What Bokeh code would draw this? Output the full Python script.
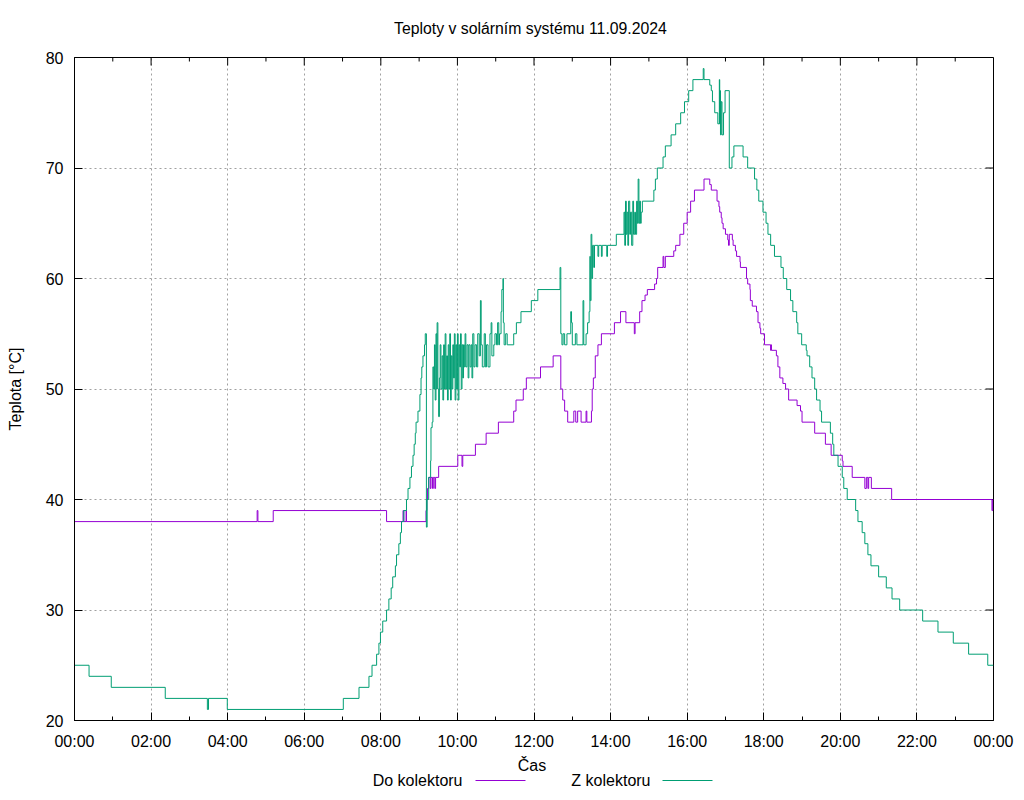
from bokeh.plotting import figure
from bokeh.layouts import column
from bokeh.models import FixedTicker, LinearAxis, Range1d
from bokeh.core.properties import value
from bokeh.embed import file_html
from bokeh.resources import INLINE

# ---- data: time in hours, temperature in degC (step data) ----
do_t = [0.00, 4.77, 4.79, 5.19, 8.15, 8.58, 8.60, 8.66, 8.67, 9.18, 9.20, 9.22, 9.25,
        9.29, 9.31, 9.35, 9.37, 9.41, 9.43, 9.51, 10.01, 10.12, 10.14, 10.47, 10.75,
        11.07, 11.47, 11.53, 11.72, 11.80, 12.17, 12.50, 12.70, 12.75, 12.80, 12.88,
        13.04, 13.09, 13.14, 13.23, 13.36, 13.38, 13.50, 13.52, 13.55, 13.60, 13.67,
        13.76, 14.10, 14.26, 14.40, 14.62, 14.64, 14.76, 14.82, 14.90, 14.96, 15.15,
        15.20, 15.23, 15.37, 15.39, 15.43, 15.65, 15.70, 15.81, 15.91, 16.00, 16.09,
        16.19, 16.44, 16.59, 16.63, 16.78, 16.83, 16.85, 16.89, 16.91, 16.94, 17.00,
        17.06, 17.08, 17.10, 17.18, 17.20, 17.26, 17.29, 17.38, 17.39, 17.55, 17.58,
        17.64, 17.65, 17.70, 17.81, 17.85, 17.90, 17.92, 18.02, 18.18, 18.19, 18.20,
        18.33, 18.37, 18.42, 18.50, 18.57, 18.65, 18.87, 18.96, 19.00, 19.33, 19.61,
        19.76, 20.05, 20.07, 20.31, 20.64, 20.68, 20.72, 20.74, 20.81, 21.34, 23.96,
        23.98, 24.00]
do_v = [38, 39, 38, 39, 38, 39, 38, 39, 38, 39, 40, 41, 42,
        41, 42, 41, 42, 41, 42, 43, 44, 43, 44, 45, 46,
        47, 48, 49, 50, 51, 52, 53, 50, 49, 48, 47,
        48, 47, 48, 47, 48, 47, 48, 50, 51, 53, 54,
        55, 56, 57, 56, 55, 56, 57, 58, 58.5, 59, 59.5,
        60, 61, 62, 61, 62, 62.5, 63, 64, 65, 66, 67,
        68, 69, 68.5, 68, 67, 66.5, 66, 65.5, 65, 64.5, 64,
        63.5, 63, 64, 63.5, 63, 62.5, 62, 61.5, 61, 60, 59.5,
        59, 58, 57.5, 57, 56, 55.5, 55, 54, 53.5, 54, 53.5,
        53, 52, 51, 50.5, 50, 49, 48.5, 48, 47, 46, 45,
        44, 43.5, 43, 42, 41, 42, 41, 42, 41, 40, 39,
        40, 40]

z_t = [0.00, 0.38, 0.96, 2.37, 3.47, 3.50, 3.99, 7.02, 7.43, 7.69, 7.77, 7.89, 7.95,
       7.99, 8.05, 8.15, 8.21, 8.27, 8.31, 8.38, 8.41, 8.47, 8.51, 8.54, 8.60, 8.67,
       8.71, 8.76, 8.80, 8.84, 8.87, 8.90, 8.92, 8.97, 9.02, 9.05, 9.07, 9.10, 9.14,
       9.16, 9.19, 9.21, 9.25, 9.30, 9.31, 9.34, 9.36, 9.38, 9.40, 9.42, 9.44, 9.46,
       9.47, 9.49, 9.51, 9.53, 9.55, 9.57, 9.60, 9.62, 9.64, 9.66, 9.68, 9.70, 9.72,
       9.74, 9.76, 9.78, 9.80, 9.82, 9.84, 9.86, 9.88, 9.90, 9.92, 9.94, 9.96, 9.98,
       10.00, 10.02, 10.04, 10.06, 10.08, 10.10, 10.12, 10.14, 10.16, 10.18, 10.20,
       10.22, 10.25, 10.28, 10.30, 10.33, 10.36, 10.38, 10.40, 10.43, 10.46, 10.50,
       10.53, 10.57, 10.60, 10.62, 10.65, 10.70, 10.73, 10.76, 10.80, 10.85, 10.88,
       10.90, 10.95, 10.98, 11.02, 11.05, 11.08, 11.10, 11.14, 11.16, 11.19, 11.20,
       11.22, 11.26, 11.30, 11.47, 11.54, 11.66, 11.93, 12.10, 12.68, 12.70, 12.73,
       12.76, 12.80, 12.86, 12.96, 12.98, 13.00, 13.08, 13.12, 13.28, 13.30, 13.36,
       13.40, 13.44, 13.46, 13.47, 13.49, 13.51, 13.53, 13.56, 13.58, 13.67, 13.69,
       13.76, 13.78, 13.90, 13.92, 14.15, 14.35, 14.37, 14.39, 14.41, 14.43, 14.45,
       14.47, 14.50, 14.52, 14.55, 14.58, 14.60, 14.63, 14.65, 14.68, 14.70, 14.72,
       14.74, 14.76, 14.78, 14.80, 14.83, 15.13, 15.17, 15.22, 15.37, 15.43, 15.58,
       15.70, 15.83, 15.93, 16.04, 16.15, 16.42, 16.44, 16.59, 16.63, 16.66, 16.72,
       16.80, 16.84, 16.85, 16.86, 16.87, 16.89, 16.91, 16.95, 16.99, 17.10, 17.17,
       17.22, 17.46, 17.58, 17.76, 17.82, 17.87, 17.98, 18.06, 18.11, 18.18, 18.28,
       18.45, 18.51, 18.60, 18.70, 18.76, 18.86, 18.89, 18.99, 19.11, 19.13, 19.20,
       19.26, 19.33, 19.38, 19.47, 19.51, 19.74, 19.80, 19.83, 19.94, 20.05, 20.09,
       20.18, 20.40, 20.46, 20.57, 20.64, 20.72, 20.80, 21.00, 21.20, 21.35, 21.55,
       22.15, 22.55, 22.95, 23.35, 23.85, 24.00]
z_v = [25, 24, 23, 22, 21, 22, 21, 22, 23, 24, 25, 26, 27,
       28, 29, 30, 31, 32, 33, 34, 35, 36, 37, 38, 39, 40,
       41, 42, 43, 44, 45, 46, 47, 48, 49.5, 51, 52, 53, 54,
       55, 37.5, 40, 42, 43.5, 46.5, 47, 52, 50, 54, 49, 55, 50,
       56, 50, 47.5, 51, 54, 50, 53, 49, 54, 50, 55, 50, 53,
       49, 54, 50, 55, 49, 53, 50, 54, 51, 55, 49, 54, 50,
       55, 49, 54, 52, 55, 50, 54, 51, 54, 52, 55,
       52, 54, 51, 54, 52, 54, 51, 55, 52, 54, 52,
       55, 53, 58, 54, 52, 55, 52, 54, 52, 55, 56,
       53, 54, 55, 54, 56, 54, 55, 57, 59, 60, 56,
       54, 55, 54, 55, 56, 57, 58, 59, 61, 55, 54,
       55, 54, 55, 57, 56, 54, 55, 54, 58, 54, 55,
       56, 57, 62, 58, 64, 60, 63, 61, 63, 62, 63,
       62, 63, 62, 63, 64, 66, 63, 67, 64, 66, 63,
       67, 64, 66, 63, 67, 64, 66, 64, 67, 65, 69,
       65, 67, 65, 66, 67, 68, 69, 70, 71, 72, 73,
       74, 75, 76, 77, 78, 79, 78, 77.5, 77, 76, 75,
       74, 78, 74, 77, 73, 76, 73, 75, 77, 70, 71,
       72, 71, 70, 69, 68, 67, 66, 65, 64, 63, 62,
       61, 60, 59, 58, 57, 56, 55, 54, 53.5, 53, 52,
       51, 50, 49, 48, 47, 46, 45, 44, 43, 42, 41,
       40, 39, 38, 37, 36, 35, 34, 33, 32, 31, 30,
       29, 28, 27, 26, 25, 25]

x_major = [0, 2, 4, 6, 8, 10, 12, 14, 16, 18, 20, 22, 24]
x_minor = [1, 3, 5, 7, 9, 11, 13, 15, 17, 19, 21, 23]
x_labels = ["00:00", "02:00", "04:00", "06:00", "08:00", "10:00", "12:00",
            "14:00", "16:00", "18:00", "20:00", "22:00", "00:00"]
y_major = [20, 30, 40, 50, 60, 70, 80]

title_text = "Teploty v solárním systému 11.09.2024"
x_title = "Čas"
y_title = "Teplota [°C]"
names = ["Do kolektoru", "Z kolektoru"]
colors = ["#9400d3", "#009e73"]

FONT = "Liberation Sans"
FS = "16px"
X0, X1, Y0, Y1 = 0, 24, 20, 80
W, H = 1024, 800
H_TOP = 48            # strip holding the title
H_MAIN = 704          # plot (frame from page y=57 to y=720)
H_BOT = H - H_TOP - H_MAIN
BL, BR = 74, 31
BT = 57 - H_TOP
BB = H_TOP + H_MAIN - 720
FW, FH = W - BL - BR, H_MAIN - BT - BB


def strip(height, y_top):
    s = figure(width=W, height=height, x_range=Range1d(BL, W - BR),
               y_range=Range1d(y_top + height, y_top),
               output_backend="svg", toolbar_location=None,
               min_border_left=BL, min_border_right=BR, min_border_top=0,
               min_border_bottom=0, x_axis_location=None, y_axis_location=None)
    s.outline_line_color = None
    s.background_fill_color = "white"
    s.border_fill_color = "white"
    s.xgrid.visible = False
    s.ygrid.visible = False
    return s


# ---- title strip (page-pixel ranges so it lines up with the plot) ----
top = strip(H_TOP, 0)
top.text(x=[530], y=[28], text=[title_text], text_align="center", text_baseline="middle",
         text_font=value(FONT), text_font_size="15.8px", text_color="black")

fig = figure(width=W, height=H_MAIN, x_range=Range1d(X0, X1), y_range=Range1d(Y0, Y1),
             output_backend="svg", toolbar_location=None,
             min_border_left=BL, min_border_right=BR, min_border_top=BT, min_border_bottom=BB,
             x_axis_location=None, y_axis_location=None)
fig.background_fill_color = "white"
fig.border_fill_color = "white"
fig.outline_line_color = "black"
fig.outline_line_width = 1

xt = FixedTicker(ticks=x_major, minor_ticks=x_minor)
yt = FixedTicker(ticks=y_major, minor_ticks=[])


def style_axis(ax):
    ax.axis_line_color = "black"
    ax.major_tick_line_color = "black"
    ax.minor_tick_line_color = "black"
    ax.major_tick_in = 8
    ax.major_tick_out = 0
    ax.minor_tick_in = 4
    ax.minor_tick_out = 0
    ax.major_label_text_font = FONT
    ax.major_label_text_font_size = FS
    ax.major_label_text_color = "black"
    ax.axis_label_text_font = FONT
    ax.axis_label_text_font_size = FS
    ax.axis_label_text_font_style = "normal"
    ax.axis_label_text_color = "black"


xb = LinearAxis(ticker=xt, major_label_overrides={k: v for k, v in zip(x_major, x_labels)})
style_axis(xb)
xb.major_label_standoff = 12
fig.add_layout(xb, "below")

yl = LinearAxis(ticker=yt, axis_label=y_title)
style_axis(yl)
yl.major_label_standoff = 11
yl.axis_label_standoff = 19
fig.add_layout(yl, "left")

fig.xgrid.ticker = xt
fig.ygrid.ticker = yt
for g in (fig.xgrid, fig.ygrid):
    g.grid_line_color = "#a0a0a0"
    g.grid_line_dash = "2 3"
    g.grid_line_width = 1

# mirrored ticks on the top and right border (gnuplot style)
ppx = FW / (X1 - X0)
ppy = FH / (Y1 - Y0)
fig.segment(x0=x_major, y0=[Y1] * len(x_major), x1=x_major, y1=[Y1 - 8 / ppy] * len(x_major),
            line_color="black", line_width=1)
fig.segment(x0=x_minor, y0=[Y1] * len(x_minor), x1=x_minor, y1=[Y1 - 4 / ppy] * len(x_minor),
            line_color="black", line_width=1)
fig.segment(x0=[X1] * len(y_major), y0=y_major, x1=[X1 - 8 / ppx] * len(y_major), y1=y_major,
            line_color="black", line_width=1)

fig.step(do_t, do_v, mode="after", line_color=colors[0], line_width=1)
fig.step(z_t, z_v, mode="after", line_color=colors[1], line_width=1)

# ---- strip below the plot: x-axis title and gnuplot-style key (text, then sample) ----
leg = strip(H_BOT, H_TOP + H_MAIN)
leg.text(x=[(BL + W - BR) / 2 - 2], y=[765], text=[x_title], text_align="center",
         text_baseline="middle", text_font=value(FONT), text_font_size=FS, text_color="black")
key_text_right = [462, 650]
key_line = [(475, 525), (662, 712)]
key_y = 780
leg.text(x=key_text_right, y=[key_y] * 2, text=names, text_align="right",
         text_baseline="middle", text_font=value(FONT), text_font_size=FS, text_color="black")
leg.segment(x0=[a for a, b in key_line], y0=[key_y] * 2, x1=[b for a, b in key_line],
            y1=[key_y] * 2, line_color=colors, line_width=1)

p = column(top, fig, leg, spacing=0)
open("out.html", "w").write(file_html(p, INLINE))
